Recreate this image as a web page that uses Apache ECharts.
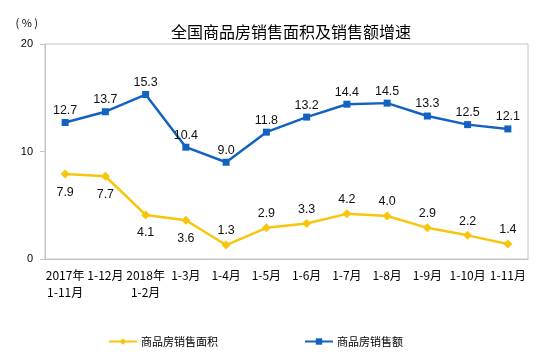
<!DOCTYPE html>
<html><head><meta charset="utf-8">
<script src="https://cdn.jsdelivr.net/npm/echarts@6/dist/echarts.min.js"></script>
<style>html,body{margin:0;padding:0;background:#fff}#c{width:558px;height:358px}</style>
</head><body><div id="c"></div>
<script>
var categories = ['2017年\n1-11月','1-12月','2018年\n1-2月','1-3月','1-4月','1-5月','1-6月','1-7月','1-8月','1-9月','1-10月','1-11月'];
var areaGrowth = [7.9,7.7,4.1,3.6,1.3,2.9,3.3,4.2,4.0,2.9,2.2,1.4];
var salesGrowth = [12.7,13.7,15.3,10.4,9.0,11.8,13.2,14.4,14.5,13.3,12.5,12.1];
var areaLabelPos = ['bottom','bottom','bottom','bottom','top','top','top','top','top','top','top','top'];

var chart = echarts.init(document.getElementById('c'));
var cjk = '"Noto Sans CJK SC", sans-serif';
var latin = '"Liberation Sans", Arial, sans-serif';
chart.setOption({
  animation:false,
  title:{text:'全国商品房销售面积及销售额增速',left:286,textAlign:'center',top:19,
    textStyle:{fontSize:16,fontWeight:'normal',color:'#000',fontFamily:cjk}},
  grid:{left:45,right:30,top:44,bottom:99,show:true,borderColor:'#c4c4c4',borderWidth:1},
  legend:{bottom:6,left:103,itemWidth:28,itemHeight:8,itemGap:86,
    textStyle:{fontSize:11,color:'#000',fontFamily:cjk,padding:[0,0,0,-1]},
    data:['商品房销售面积','商品房销售额']},
  xAxis:{type:'category',data:categories,boundaryGap:true,
    axisLine:{lineStyle:{color:'#c4c4c4'}},
    axisTick:{inside:true,length:4,lineStyle:{color:'#c4c4c4'}},
    axisLabel:{color:'#000',fontSize:12,fontFamily:cjk,margin:8,interval:0,lineHeight:17,
      align:'center'}},
  yAxis:{type:'value',min:0,max:20,interval:10,name:'( % )',nameLocation:'end',nameGap:16,
    nameTextStyle:{color:'#000',fontSize:11,align:'right',padding:[0,7,0,0],fontFamily:cjk},
    splitLine:{show:false},
    axisLine:{show:true,lineStyle:{color:'#c4c4c4'}},
    axisTick:{show:true,length:5,lineStyle:{color:'#c4c4c4'}},
    axisLabel:{color:'#000',fontSize:11,margin:12,fontFamily:latin}},
  series:[
    {name:'商品房销售面积',type:'line',
     data:areaGrowth.map(function(v,i){return {value:v,label:{position:areaLabelPos[i],distance:areaLabelPos[i]==='top'?3:7}};}),
     symbol:'diamond',symbolSize:9,
     itemStyle:{color:'#F7C60C'},lineStyle:{color:'#F7C60C',width:2.5},
     label:{show:true,fontSize:12.5,color:'#111',fontFamily:latin,
       formatter:function(p){return p.value.toFixed(1);}}},
    {name:'商品房销售额',type:'line',data:salesGrowth,
     symbol:'rect',symbolSize:7,
     itemStyle:{color:'#1262C2'},lineStyle:{color:'#1262C2',width:2.5},
     label:{show:true,position:'top',fontSize:12.5,color:'#111',distance:2,fontFamily:latin,
       formatter:function(p){return p.value.toFixed(1);}}}
  ]
});
</script></body></html>
